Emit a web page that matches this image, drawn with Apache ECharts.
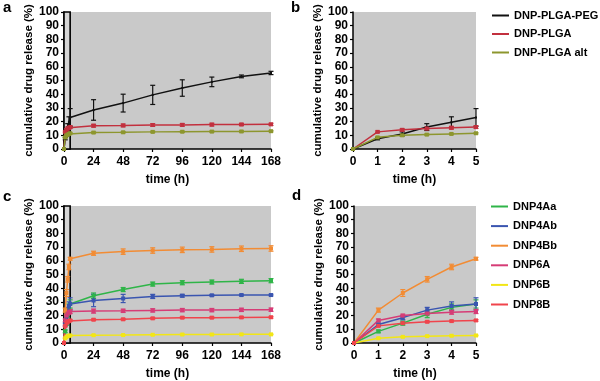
<!DOCTYPE html>
<html>
<head>
<meta charset="utf-8">
<script src="https://cdn.jsdelivr.net/npm/echarts@6/dist/echarts.min.js"></script>
<style>
  html, body { margin: 0; padding: 0; background: #fff; }
  #chart { width: 600px; height: 381px; }
</style>
</head>
<body>
<div id="chart"></div>
<script>
// time points (h)
const timeLong = [0, 1, 2, 3, 4, 5, 24, 48, 72, 96, 120, 144, 168];
const timeShort = [0, 1, 2, 3, 4, 5];

// panel a / b
const topNames = ["DNP-PLGA-PEG", "DNP-PLGA", "DNP-PLGA alt"];
const topColors = ["#111111", "#c2303e", "#8d962e"];
const pegMean = [0, 7.5, 11, 16, 19.5, 23, 28.5, 33.5, 39.5, 44.5, 49, 53, 55.5];
const pegErr = [0, 0.8, 1.5, 2.5, 4, 6.5, 7.5, 6.5, 7, 6, 3.5, 1, 1.2];
const plgaMean = [0, 12.5, 14, 15, 15.5, 16, 17, 17.2, 17.5, 17.6, 17.8, 17.9, 18];
const plgaErr = [0, 0.6, 0.8, 1, 1, 1, 1, 1, 1, 1, 1, 0.8, 0.8];
const altMean = [0, 8.5, 10, 10.5, 11, 11.5, 12, 12.2, 12.5, 12.6, 12.7, 12.8, 13];
const altErr = [0, 0.5, 0.5, 0.5, 0.5, 0.5, 0.5, 0.5, 0.5, 0.5, 0.5, 0.5, 0.5];

// panel c / d
const botNames = ["DNP4Aa", "DNP4Ab", "DNP4Bb", "DNP6A", "DNP6B", "DNP8B"];
const botColors = ["#2fb548", "#3a55b0", "#f28c34", "#d63c76", "#f2e616", "#f0444c"];
const aaMean = [0, 8.5, 14.5, 21, 26, 28.5, 34.5, 39, 43, 44, 44.5, 45, 45.5];
const aaErr = [0, 1, 1.5, 2.5, 2.5, 3, 2, 1.5, 1.5, 1.5, 1.5, 1.5, 1.5];
const abMean = [0, 13.5, 18.5, 24, 27, 28.5, 31, 32.5, 34, 34.5, 34.8, 35, 35];
const abErr = [0, 1, 1.5, 2, 3, 4.5, 4.5, 3, 1.5, 1, 0.6, 0.6, 0.6];
const bbMean = [0, 24, 36.5, 46.5, 55.5, 61.5, 65.5, 66.7, 67.5, 68, 68.3, 68.8, 69];
const bbErr = [0, 1.5, 2.5, 2, 2, 1, 1.5, 2, 2, 2, 2, 2, 2];
const a6Mean = [0, 16.5, 20, 21.5, 22.5, 23, 23.3, 23.5, 23.8, 24, 24, 24.2, 24.3];
const a6Err = [0, 1, 1, 1, 1.5, 1.5, 1.5, 1.2, 1.2, 1.2, 1.2, 1.2, 1.2];
const b6Mean = [0, 3.5, 4.5, 5, 5.3, 5.5, 5.7, 5.8, 6, 6.2, 6.2, 6.3, 6.3];
const b6Err = [0, 0.3, 0.3, 0.3, 0.3, 0.3, 0.3, 0.3, 0.3, 0.3, 0.3, 0.3, 0.3];
const b8Mean = [0, 12.5, 14.5, 15.5, 16, 16.5, 17, 17.3, 18, 18.5, 18.5, 18.7, 18.8];
const b8Err = [0, 0.6, 0.6, 0.6, 0.6, 0.6, 0.6, 0.6, 0.6, 0.6, 0.6, 0.6, 0.6];

const topMeans = [pegMean, plgaMean, altMean];
const topErrs = [pegErr, plgaErr, altErr];
const botMeans = [aaMean, abMean, bbMean, a6Mean, b6Mean, b8Mean];
const botErrs = [aaErr, abErr, bbErr, a6Err, b6Err, b8Err];

const FONT = "Liberation Sans, Arial, sans-serif";
const chart = echarts.init(document.getElementById("chart"));

const grids = [
  { left: 64, top: 12, right: 329, bottom: 232 },
  { left: 353, top: 12, right: 124, bottom: 232 },
  { left: 64, top: 206, right: 329, bottom: 38 },
  { left: 354, top: 206, right: 124, bottom: 38 }
].map((g) => ({ ...g, show: true, backgroundColor: "#c9c9c9", borderWidth: 0 }));

const axisLine = { show: true, lineStyle: { color: "#000", width: 1.5 } };
const axisTick = { show: true, length: 3, lineStyle: { color: "#000", width: 1.2 } };
const labelStyle = { color: "#000", fontWeight: "bold", fontSize: 12, fontFamily: FONT };

const xAxes = [0, 1, 2, 3].map((i) => {
  const long = i % 2 === 0;
  return {
    type: "value",
    gridIndex: i,
    min: 0,
    max: long ? 168 : 5,
    interval: long ? 24 : 1,
    axisLine,
    axisTick,
    splitLine: { show: false },
    axisLabel: { ...labelStyle, margin: 7 },
    name: "time (h)",
    nameLocation: "middle",
    nameGap: 25,
    nameTextStyle: { color: "#000", fontWeight: "bold", fontSize: 12, fontFamily: FONT }
  };
});

const yAxes = [0, 1, 2, 3].map((i) => ({
  type: "value",
  gridIndex: i,
  min: 0,
  max: 100,
  interval: 10,
  axisLine,
  axisTick,
  splitLine: { show: false },
  axisLabel: { ...labelStyle, margin: 5 },
  name: "cumulative drug release (%)",
  nameLocation: "middle",
  nameGap: 28,
  nameTextStyle: { color: "#000", fontWeight: "bold", fontSize: 11.5, fontFamily: FONT }
}));

function errRender(color) {
  return function (params, api) {
    const x = api.value(0);
    const lo = api.coord([x, api.value(1)]);
    const hi = api.coord([x, api.value(2)]);
    const w = 2.5;
    const st = { stroke: color, lineWidth: 1.2 };
    return {
      type: "group",
      children: [
        { type: "line", shape: { x1: lo[0], y1: lo[1], x2: hi[0], y2: hi[1] }, style: st },
        { type: "line", shape: { x1: lo[0] - w, y1: lo[1], x2: lo[0] + w, y2: lo[1] }, style: st },
        { type: "line", shape: { x1: hi[0] - w, y1: hi[1], x2: hi[0] + w, y2: hi[1] }, style: st }
      ]
    };
  };
}

const series = [];

function addGroup(names, colors, means, errs, axisIdx, long) {
  const times = long ? timeLong : timeShort;
  names.forEach((name, k) => {
    const pts = times.map((t, j) => [t, means[k][j]]);
    const bars = times
      .map((t, j) => [t, means[k][j] - errs[k][j], means[k][j] + errs[k][j]])
      .filter((d, j) => errs[k][j] > 0);
    series.push({
      type: "custom",
      name: "err " + name + axisIdx,
      xAxisIndex: axisIdx,
      yAxisIndex: axisIdx,
      renderItem: errRender(colors[k]),
      encode: { x: 0, y: [1, 2] },
      data: bars,
      z: 3,
      silent: true
    });
    series.push({
      type: "line",
      name: name,
      xAxisIndex: axisIdx,
      yAxisIndex: axisIdx,
      data: pts,
      color: colors[k],
      symbol: "rect",
      symbolSize: k === 0 && names === topNames ? 2 : 4,
      showSymbol: true,
      lineStyle: { width: 1.5, color: colors[k] },
      itemStyle: { color: colors[k] },
      z: 4
    });
  });
}

// highlighted 0-5 h window in the long panels
[0, 2].forEach((idx) => {
  series.push({
    type: "line",
    name: "window" + idx,
    xAxisIndex: idx,
    yAxisIndex: idx,
    data: [[0, 0]],
    symbolSize: 0,
    lineStyle: { opacity: 0 },
    z: 1,
    silent: true,
    markArea: {
      silent: true,
      itemStyle: { color: "#d6d6d6", borderColor: "#000", borderWidth: 1.6 },
      data: [[{ xAxis: 0 }, { xAxis: 5 }]]
    }
  });
});

addGroup(topNames, topColors, topMeans, topErrs, 0, true);
addGroup(topNames, topColors, topMeans.map((m) => m.slice(0, 6)), topErrs.map((e) => e.slice(0, 6)), 1, false);
addGroup(botNames, botColors, botMeans, botErrs, 2, true);
addGroup(botNames, botColors, botMeans.map((m) => m.slice(0, 6)), botErrs.map((e) => e.slice(0, 6)), 3, false);

const legendText = { color: "#000", fontWeight: "bold", fontSize: 11, fontFamily: FONT };

chart.setOption({
  animation: false,
  grid: grids,
  xAxis: xAxes,
  yAxis: yAxes,
  legend: [
    {
      data: topNames,
      orient: "vertical",
      left: 487,
      top: 5,
      itemWidth: 17,
      itemHeight: 2,
      itemGap: 7.5,
      icon: "rect",
      textStyle: legendText,
      selectedMode: false
    },
    {
      data: botNames,
      orient: "vertical",
      left: 486,
      top: 196,
      itemWidth: 17,
      itemHeight: 2,
      itemGap: 8.6,
      icon: "rect",
      textStyle: legendText,
      selectedMode: false
    }
  ],
  graphic: [
    { type: "text", left: 3, top: 0, style: { text: "a", font: "bold 15px " + FONT, fill: "#000" } },
    { type: "text", left: 291, top: 0, style: { text: "b", font: "bold 15px " + FONT, fill: "#000" } },
    { type: "text", left: 3, top: 189, style: { text: "c", font: "bold 15px " + FONT, fill: "#000" } },
    { type: "text", left: 292, top: 188, style: { text: "d", font: "bold 15px " + FONT, fill: "#000" } }
  ],
  series: series
});
</script>
</body>
</html>
